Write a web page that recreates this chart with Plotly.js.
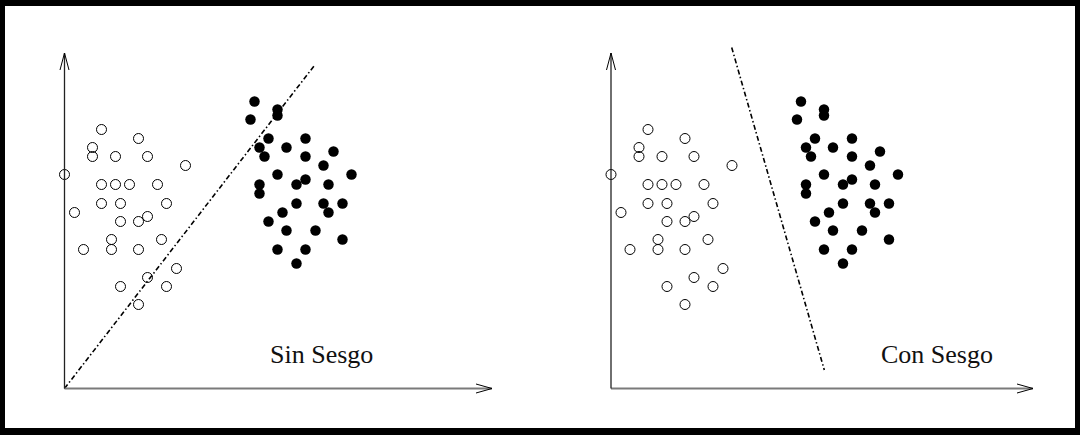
<!DOCTYPE html>
<html>
<head>
<meta charset="utf-8">
<script src="https://cdn.plot.ly/plotly-3.0.1.min.js"></script>
<style>html,body{margin:0;padding:0;background:#fff;}#chart{width:1080px;height:435px;}</style>
</head>
<body>
<div id="chart"></div>
<script>
// Class A (open circles), same in both panels
const openX = [3.7,7.4,2.8,2.8,5.1,8.3,12.1,0.0,3.7,5.1,6.5,9.3,3.7,5.6,10.2,1.0,8.3,5.6,7.4,4.7,9.7,1.9,4.7,7.4,11.2,8.3,5.6,10.2,7.4];
const openY = [25.9,25.0,24.1,23.2,23.2,23.2,22.3,21.4,20.4,20.4,20.4,20.4,18.5,18.5,18.5,17.6,17.2,16.7,16.7,14.9,14.9,13.9,13.9,13.9,12.0,11.1,10.2,10.2,8.4];
// Class B (filled circles)
const fillX = [19.0,21.3,21.3,18.6,20.4,24.1,19.5,22.2,26.9,20.0,24.1,25.9,21.3,28.7,24.1,23.2,26.4,19.5,19.5,23.2,25.9,27.8,26.4,21.8,20.4,22.2,25.1,27.8,21.3,24.1,23.2];
const fillY = [28.7,27.9,27.3,26.9,25.0,25.0,24.1,24.1,23.7,23.2,23.2,22.3,21.4,21.4,20.9,20.4,20.4,20.4,19.5,18.5,18.5,18.5,17.6,17.6,16.7,15.8,15.8,14.9,13.9,13.9,12.5];
// Separating lines
const lineNoBiasX = [0, 24.95];
const lineNoBiasY = [0, 32.25];
const lineBiasX = [12.07, 21.33];
const lineBiasY = [34.1, 1.85];
const panelLabels = ["Sin Sesgo", "Con Sesgo"];
const axisLenX = [42.75, 42.2];
const axisLenY = 33.55;

const openMarker = {symbol:'circle-open', size:10, color:'#000', line:{width:1, color:'#000'}};
const fillMarker = {symbol:'circle', size:10.5, color:'#000'};
const dashLine = {color:'#000', width:1.6, dash:'5px,2.5px,1.5px,2.5px'};

const traces = [];
['x','x2'].forEach((xa,i)=>{
  traces.push({x:openX, y:openY, xaxis:xa, yaxis:'y', mode:'markers', type:'scatter', marker:openMarker, hoverinfo:'skip', cliponaxis:false});
  traces.push({x:fillX, y:fillY, xaxis:xa, yaxis:'y', mode:'markers', type:'scatter', marker:fillMarker, hoverinfo:'skip', cliponaxis:false});
  traces.push({x: i===0?lineNoBiasX:lineBiasX, y: i===0?lineNoBiasY:lineBiasY, xaxis:xa, yaxis:'y', mode:'lines', type:'scatter', line:dashLine, hoverinfo:'skip'});
});

const shapes = [];
const annotations = [];
['x','x2'].forEach((xa,i)=>{
  const L = axisLenX[i];
  // x axis
  shapes.push({type:'line', xref:xa, yref:'y', x0:0, y0:0, x1:L, y1:0, line:{color:'#7a7a7a', width:2}});
  shapes.push({type:'line', xref:xa, yref:'y', x0:L-1.6, y0:0.45, x1:L, y1:0, line:{color:'#000', width:1}});
  shapes.push({type:'line', xref:xa, yref:'y', x0:L-1.6, y0:-0.45, x1:L, y1:0, line:{color:'#000', width:1}});
  // y axis
  shapes.push({type:'line', xref:xa, yref:'y', x0:0, y0:0, x1:0, y1:axisLenY, line:{color:'#222', width:1.3}});
  shapes.push({type:'line', xref:xa, yref:'y', x0:-0.45, y0:axisLenY-1.7, x1:0, y1:axisLenY, line:{color:'#000', width:1}});
  shapes.push({type:'line', xref:xa, yref:'y', x0:0.45, y0:axisLenY-1.7, x1:0, y1:axisLenY, line:{color:'#000', width:1}});
  annotations.push({xref:xa, yref:'y', x: i===0?25.7:32.55, y:3.45, text:panelLabels[i], showarrow:false,
    font:{family:'Liberation Serif, Times New Roman, serif', size:26, color:'#111'}, xanchor:'center', yanchor:'middle'});
});
// frame border
const W=1080, H=435;
shapes.push({type:'rect', xref:'paper', yref:'paper', x0:0, x1:5/W, y0:0, y1:1, fillcolor:'#000', line:{width:0}, layer:'above'});
shapes.push({type:'rect', xref:'paper', yref:'paper', x0:1-5/W, x1:1, y0:0, y1:1, fillcolor:'#000', line:{width:0}, layer:'above'});
shapes.push({type:'rect', xref:'paper', yref:'paper', x0:0, x1:1, y0:1-6/H, y1:1, fillcolor:'#000', line:{width:0}, layer:'above'});
shapes.push({type:'rect', xref:'paper', yref:'paper', x0:0, x1:1, y0:0, y1:7/H, fillcolor:'#000', line:{width:0}, layer:'above'});

const hidden = {visible:false, fixedrange:true};
const layout = {
  width:W, height:H,
  margin:{l:0, r:0, t:0, b:0},
  paper_bgcolor:'#fff', plot_bgcolor:'rgba(0,0,0,0)',
  showlegend:false,
  xaxis: Object.assign({domain:[0,0.5], range:[-6.45, 47.55]}, hidden),
  xaxis2: Object.assign({domain:[0.5,1], range:[-7.1, 46.9]}, hidden),
  yaxis: Object.assign({domain:[0,1], range:[-4.65, 38.85]}, hidden),
  shapes: shapes,
  annotations: annotations
};
Plotly.newPlot('chart', traces, layout, {staticPlot:true, displayModeBar:false});
</script>
</body>
</html>
